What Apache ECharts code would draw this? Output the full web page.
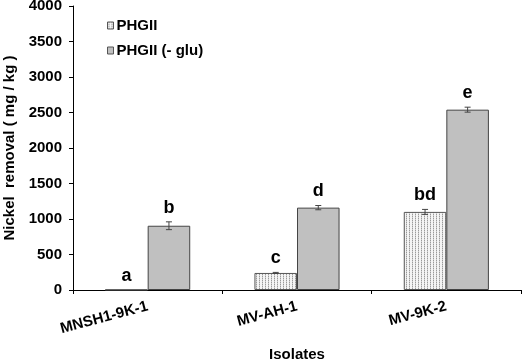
<!DOCTYPE html>
<html><head><meta charset="utf-8">
<script src="https://cdn.jsdelivr.net/npm/echarts@6/dist/echarts.min.js"></script>
<style>html,body{margin:0;padding:0;background:#fff}#c{width:523px;height:360px}</style>
</head><body><div id="c"></div>
<script>
var categories = ['MNSH1-9K-1', 'MV-AH-1', 'MV-9K-2'];
var seriesNames = ['PHGII', 'PHGII (- glu)'];
var phgii = [5, 240, 1100];
var phgiiErr = [0, 8, 35];
var phgiiLetters = ['a', 'c', 'bd'];
var phgiiGlu = [905, 1160, 2540];
var phgiiGluErr = [55, 30, 35];
var phgiiGluLetters = ['b', 'd', 'e'];
var yTicks = [0, 500, 1000, 1500, 2000, 2500, 3000, 3500, 4000];

var FONT = '"Liberation Sans", Arial, sans-serif';

// dotted pattern for PHGII
var pc = document.createElement('canvas');
pc.width = 3; pc.height = 2;
var px = pc.getContext('2d');
px.fillStyle = '#f4f4f4'; px.fillRect(0, 0, 3, 2);
px.fillStyle = '#9a9a9a'; px.fillRect(1, 0, 1, 1);
px.fillStyle = '#cfcfcf'; px.fillRect(1, 1, 1, 1);

var chart = echarts.init(document.getElementById('c'));

function errSeries(idx, vals, errs, letters) {
  return {
    type: 'custom',
    z: 10,
    silent: true,
    data: vals.map(function (v, i) { return [i, v, errs[i]]; }),
    renderItem: function (params, api) {
      var i = api.value(0), v = api.value(1), e = api.value(2);
      var letter = letters[params.dataIndex];
      var base = api.coord([i, v]);
      var bw = api.size([1, 0])[0];
      var barW = bw * 0.285;
      var cx = base[0] + (idx === 0 ? -barW / 2 : barW / 2);
      var top = api.coord([i, v + e])[1];
      var bot = api.coord([i, v - e])[1];
      var children = [];
      var st = { stroke: '#444', lineWidth: 1 };
      if (e > 0) {
        children.push({ type: 'line', shape: { x1: cx, y1: top, x2: cx, y2: bot }, style: st });
        children.push({ type: 'line', shape: { x1: cx - 3, y1: top, x2: cx + 3, y2: top }, style: st });
        children.push({ type: 'line', shape: { x1: cx - 3, y1: bot, x2: cx + 3, y2: bot }, style: st });
      }
      children.push({
        type: 'text',
        style: {
          x: cx, y: top - 5, text: letter,
          textAlign: 'center', textVerticalAlign: 'bottom',
          font: 'bold 18px ' + FONT, fill: '#000'
        }
      });
      return { type: 'group', children: children };
    }
  };
}

chart.setOption({
  animation: false,
  backgroundColor: '#fff',
  grid: { left: 73, right: 2, top: 6, bottom: 70, containLabel: false, outerBoundsMode: 'none' },
  legend: {
    orient: 'vertical',
    left: 102, top: 13,
    itemWidth: 6, itemHeight: 7, itemGap: 10,
    icon: 'rect',
    itemStyle: { borderColor: '#555', borderWidth: 1 },
    textStyle: { fontFamily: FONT, fontWeight: 'bold', fontSize: 15, color: '#000', padding: [0, 0, 0, -2] },
    data: seriesNames
  },
  xAxis: {
    type: 'category',
    data: categories,
    name: 'Isolates',
    nameLocation: 'middle',
    nameGap: 57,
    nameTextStyle: { fontFamily: FONT, fontWeight: 'bold', fontSize: 15, color: '#000' },
    axisLine: { lineStyle: { color: '#000', width: 1 } },
    axisTick: { show: true, alignWithLabel: false, length: 4, lineStyle: { color: '#000' } },
    axisLabel: { rotate: 15, fontFamily: FONT, fontWeight: 'bold', fontSize: 15, color: '#000', margin: 16 }
  },
  yAxis: {
    type: 'value',
    min: 0, max: 4000, interval: 500,
    name: 'Nickel  removal ( mg / kg )',
    nameLocation: 'middle',
    nameGap: 54,
    nameTextStyle: { fontFamily: FONT, fontWeight: 'bold', fontSize: 15, color: '#000' },
    axisLine: { show: true, lineStyle: { color: '#000', width: 1 } },
    axisTick: { show: true, length: 4, lineStyle: { color: '#000' } },
    splitLine: { show: false },
    axisLabel: {
      fontFamily: FONT, fontWeight: 'bold', fontSize: 15, color: '#000', margin: 11,
      formatter: function (v) { return yTicks.indexOf(v) >= 0 ? String(v) : ''; }
    }
  },
  series: [
    {
      name: seriesNames[0], type: 'bar', data: phgii,
      barWidth: '28.5%', barGap: '0%',
      itemStyle: { color: { image: pc, repeat: 'repeat' }, borderColor: '#555', borderWidth: 1 }
    },
    {
      name: seriesNames[1], type: 'bar', data: phgiiGlu,
      barWidth: '28.5%', barGap: '0%',
      itemStyle: { color: '#c0c0c0', borderColor: '#444', borderWidth: 1 }
    },
    errSeries(0, phgii, phgiiErr, phgiiLetters),
    errSeries(1, phgiiGlu, phgiiGluErr, phgiiGluLetters)
  ]
});
</script></body></html>
